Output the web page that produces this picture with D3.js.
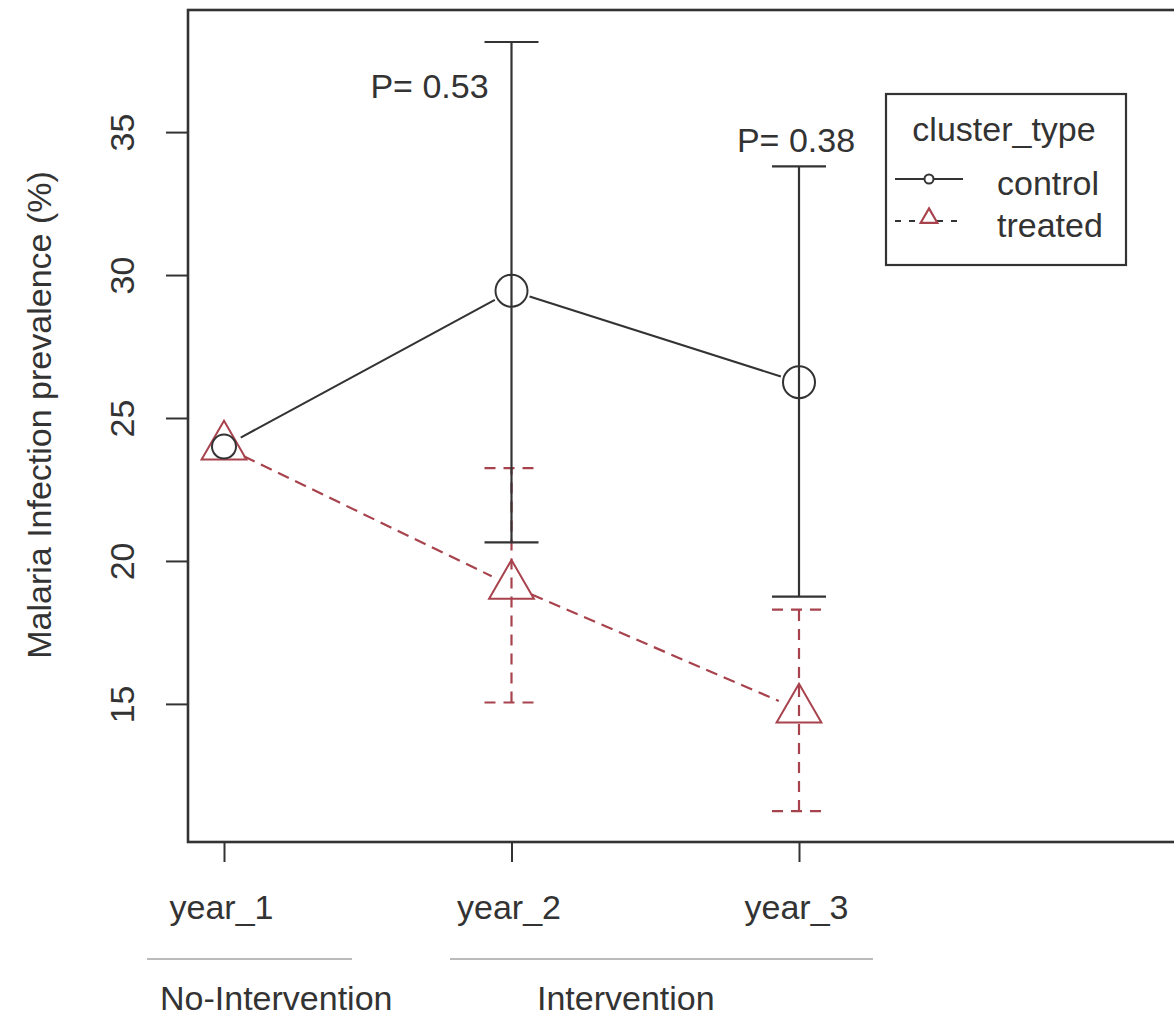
<!DOCTYPE html>
<html>
<head>
<meta charset="utf-8">
<script src="https://cdnjs.cloudflare.com/ajax/libs/d3/7.8.5/d3.min.js"></script>
<style>
  body { margin: 0; background: #fff; }
  text { font-family: "Liberation Sans", Arial, sans-serif; fill: #333; }
</style>
</head>
<body>
<svg width="1174" height="1016"></svg>
<script>
var years = ["year_1", "year_2", "year_3"];
var controlMean = [24.0, 29.45, 26.25];
var controlLow  = [null, 20.65, 18.75];
var controlHigh = [null, 38.15, 33.8];
var treatedMean = [24.0, 19.13, 14.8];
var treatedLow  = [null, 15.05, 11.25];
var treatedHigh = [null, 23.25, 18.3];
var pLabels = [null, "P= 0.53", "P= 0.38"];
var pAt = [null, 36.2, 34.3];
var yTicks = [15, 20, 25, 30, 35];
var phases = ["No-Intervention", "Intervention"];

var svg = d3.select("svg");
var dark = "#333";
var red = "#a8434e";
var fs = 34;

var plotLeft = 188, plotTop = 10, plotBottom = 842, plotRight = 1200;

var y = d3.scaleLinear().domain([10.17, 39.27]).range([plotBottom, plotTop]);
var x = d3.scalePoint().domain(years).range([224, 799]);

// frame
svg.append("rect")
    .attr("x", plotLeft).attr("y", plotTop)
    .attr("width", plotRight - plotLeft).attr("height", plotBottom - plotTop)
    .attr("fill", "none").attr("stroke", dark).attr("stroke-width", 2.6);

// y axis
var yAxis = svg.append("g")
    .attr("transform", "translate(" + plotLeft + ",0)")
    .call(d3.axisLeft(y).tickValues(yTicks).tickSize(22).tickPadding(0));
yAxis.select(".domain").remove();
yAxis.selectAll("line").attr("stroke", dark).attr("stroke-width", 2);
yAxis.selectAll("text").remove();
yAxis.selectAll(".tick").append("text")
    .attr("transform", "translate(-54,0) rotate(-90)")
    .attr("text-anchor", "middle")
    .attr("font-size", fs)
    .text(function(d) { return d; });

// x axis
var xAxis = svg.append("g")
    .attr("transform", "translate(0," + plotBottom + ")")
    .call(d3.axisBottom(x).tickSize(20).tickPadding(0));
xAxis.select(".domain").remove();
xAxis.selectAll("line").attr("stroke", dark).attr("stroke-width", 2);
xAxis.selectAll("text")
    .attr("y", 77).attr("dy", 0)
    .attr("dx", -3)
    .attr("font-size", fs)
    .attr("fill", dark);

// y label
svg.append("text")
    .attr("transform", "translate(51,415) rotate(-90)")
    .attr("text-anchor", "middle")
    .attr("font-size", fs)
    .text("Malaria Infection prevalence (%)");

// phase lines and labels
var phaseSpans = [[147, 352], [450, 873]];
var phaseTextX = [160, 537];
phases.forEach(function(p, i) {
  svg.append("line")
      .attr("x1", phaseSpans[i][0]).attr("x2", phaseSpans[i][1])
      .attr("y1", 959).attr("y2", 959)
      .attr("stroke", "#bbb").attr("stroke-width", 2);
  svg.append("text")
      .attr("x", phaseTextX[i]).attr("y", 1010)
      .attr("font-size", fs)
      .text(p);
});

// error bars
function errorBars(low, high, color, dash) {
  years.forEach(function(yr, i) {
    if (low[i] == null) return;
    var cx = x(yr);
    var g = svg.append("g")
        .attr("stroke", color).attr("stroke-width", 2.2)
        .attr("stroke-dasharray", dash);
    g.append("line").attr("x1", cx).attr("x2", cx).attr("y1", y(low[i])).attr("y2", y(high[i]));
    g.append("line").attr("x1", cx - 27).attr("x2", cx + 27).attr("y1", y(low[i])).attr("y2", y(low[i]));
    g.append("line").attr("x1", cx - 27).attr("x2", cx + 27).attr("y1", y(high[i])).attr("y2", y(high[i]));
  });
}

errorBars(treatedLow, treatedHigh, red, "11,8");
errorBars(controlLow, controlHigh, dark, null);

// connecting lines with gaps around points (R type = "b")
function gappedSegments(values, gap) {
  var segs = [];
  for (var i = 0; i < values.length - 1; i++) {
    var x1 = x(years[i]), y1 = y(values[i]);
    var x2 = x(years[i + 1]), y2 = y(values[i + 1]);
    var len = Math.sqrt((x2 - x1) * (x2 - x1) + (y2 - y1) * (y2 - y1));
    var ux = (x2 - x1) / len, uy = (y2 - y1) / len;
    segs.push([x1 + ux * gap, y1 + uy * gap, x2 - ux * gap, y2 - uy * gap]);
  }
  return segs;
}

svg.selectAll(".tline").data(gappedSegments(treatedMean, 22)).enter().append("line")
    .attr("x1", function(d) { return d[0]; }).attr("y1", function(d) { return d[1]; })
    .attr("x2", function(d) { return d[2]; }).attr("y2", function(d) { return d[3]; })
    .attr("stroke", red).attr("stroke-width", 2.2).attr("stroke-dasharray", "12,7");
svg.selectAll(".cline").data(gappedSegments(controlMean, 19)).enter().append("line")
    .attr("x1", function(d) { return d[0]; }).attr("y1", function(d) { return d[1]; })
    .attr("x2", function(d) { return d[2]; }).attr("y2", function(d) { return d[3]; })
    .attr("stroke", dark).attr("stroke-width", 2);

// markers
var tri = d3.symbol().type(d3.symbolTriangle).size(870);
svg.selectAll(".tri").data(treatedMean).enter().append("path")
    .attr("transform", function(d, i) { return "translate(" + x(years[i]) + "," + y(d) + ")"; })
    .attr("d", tri)
    .attr("fill", "none").attr("stroke", red).attr("stroke-width", 2);
svg.selectAll(".circ").data(controlMean).enter().append("circle")
    .attr("cx", function(d, i) { return x(years[i]); })
    .attr("cy", function(d) { return y(d); })
    .attr("r", function(d, i) { return i === 0 ? 12 : 16; })
    .attr("fill", "none").attr("stroke", dark).attr("stroke-width", 2);

// p labels
var pShift = [0, -82, -3];
years.forEach(function(yr, i) {
  if (!pLabels[i]) return;
  svg.append("text")
      .attr("x", x(yr) + pShift[i])
      .attr("y", y(pAt[i]))
      .attr("text-anchor", "middle")
      .attr("font-size", fs)
      .text(pLabels[i]);
});

// legend
var lg = svg.append("g").attr("transform", "translate(886,94)");
lg.append("rect").attr("width", 240).attr("height", 171)
    .attr("fill", "#fff").attr("stroke", dark).attr("stroke-width", 2.2);
lg.append("text").attr("x", 118).attr("y", 47).attr("text-anchor", "middle")
    .attr("font-size", fs).text("cluster_type");
lg.append("line").attr("x1", 9).attr("x2", 77).attr("y1", 85).attr("y2", 85)
    .attr("stroke", dark).attr("stroke-width", 2);
lg.append("circle").attr("cx", 43).attr("cy", 85).attr("r", 4.5)
    .attr("fill", "#fff").attr("stroke", dark).attr("stroke-width", 2);
lg.append("line").attr("x1", 9).attr("x2", 77).attr("y1", 127).attr("y2", 127)
    .attr("stroke", dark).attr("stroke-width", 2).attr("stroke-dasharray", "6,8");
lg.append("path").attr("transform", "translate(43,124)")
    .attr("d", d3.symbol().type(d3.symbolTriangle).size(120))
    .attr("fill", "#fff").attr("stroke", red).attr("stroke-width", 2.2);
lg.append("text").attr("x", 111).attr("y", 101).attr("font-size", fs).text("control");
lg.append("text").attr("x", 111).attr("y", 143).attr("font-size", fs).text("treated");
</script>
</body>
</html>
